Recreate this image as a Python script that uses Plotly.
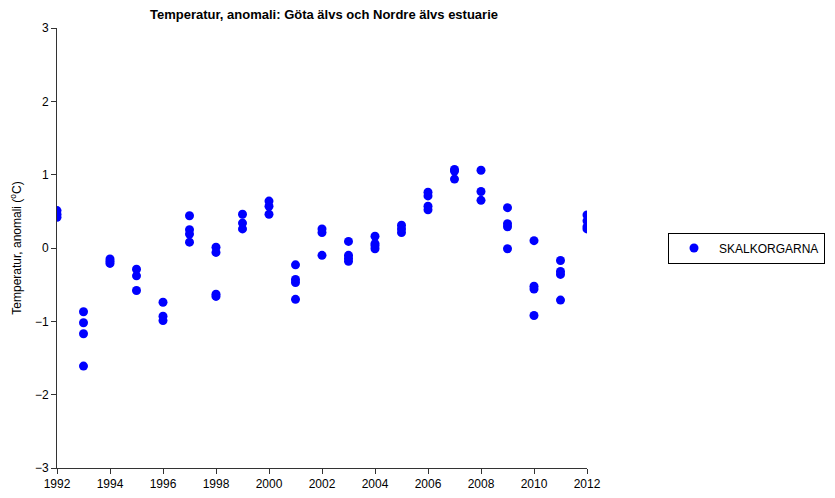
import plotly.graph_objects as go

years = [1992]*3 + [1993]*4 + [1994]*3 + [1995]*3 + [1996]*3 + [1997]*4 + [1998]*4 + \
        [1999]*3 + [2000]*3 + [2001]*4 + [2002]*3 + [2003]*4 + [2004]*4 + [2005]*3 + \
        [2006]*4 + [2007]*3 + [2008]*3 + [2009]*4 + [2010]*4 + [2011]*4 + [2012]*4
anomaly = [0.51, 0.46, 0.42,
           -0.87, -1.02, -1.17, -1.61,
           -0.15, -0.18, -0.21,
           -0.29, -0.38, -0.58,
           -0.74, -0.93, -0.99,
           0.44, 0.25, 0.19, 0.08,
           0.01, -0.06, -0.63, -0.66,
           0.46, 0.34, 0.26,
           0.64, 0.57, 0.46,
           -0.23, -0.43, -0.47, -0.70,
           0.26, 0.21, -0.10,
           0.09, -0.10, -0.14, -0.18,
           0.16, 0.06, 0.03, -0.01,
           0.31, 0.26, 0.21,
           0.76, 0.71, 0.57, 0.52,
           1.07, 1.05, 0.94,
           1.06, 0.77, 0.65,
           0.55, 0.33, 0.29, -0.01,
           0.10, -0.52, -0.56, -0.92,
           -0.17, -0.32, -0.36, -0.71,
           0.45, 0.37, 0.29, 0.26]

series_name = "SKALKORGARNA"
title = "<b>Temperatur, anomali: Göta älvs och Nordre älvs estuarie</b>"
y_title = "Temperatur, anomali (<sup>o</sup>C)"
x_ticks = list(range(1992, 2013, 2))
y_ticks = [-3, -2, -1, 0, 1, 2, 3]

# The page body has an 8 px margin, so the figure is offset to compensate.
W, H = 835, 498
OFF = 8

fig = go.Figure()
fig.add_trace(go.Scatter(
    x=years, y=anomaly, mode="markers", name=series_name,
    marker=dict(color="#0000ff", size=9, line=dict(width=0)),
    showlegend=True,
))

axis_common = dict(
    showline=True, linecolor="#333333", linewidth=1,
    ticks="outside", ticklen=5, tickcolor="#333333", tickwidth=1,
    showgrid=False, zeroline=False, mirror=False, automargin=False,
    tickfont=dict(family="Liberation Sans, Arial, sans-serif", size=12, color="black"),
)

fig.update_layout(
    width=W, height=H,
    margin=dict(l=57 - OFF, r=W - (587 - OFF), t=28 - OFF, b=H - (468 - OFF)),
    paper_bgcolor="white", plot_bgcolor="white",
    font=dict(family="Liberation Sans, Arial, sans-serif", size=12, color="black"),
    title=dict(text=title, x=(324 - OFF) / W, xanchor="center", y=1 - (14 - OFF) / H,
               yanchor="middle", font=dict(size=13, color="black")),
    xaxis=dict(range=[1992, 2012], tickvals=x_ticks, **axis_common),
    yaxis=dict(range=[-3, 3], tickvals=y_ticks, title=dict(text=y_title, standoff=10,
               font=dict(size=12)), **axis_common),
    legend=dict(x=(668 - 57) / 530, xanchor="left", y=0.5, yanchor="middle",
                bordercolor="black", borderwidth=1, bgcolor="white",
                font=dict(size=12), itemwidth=40),
)

fig.write_html("out.html")
